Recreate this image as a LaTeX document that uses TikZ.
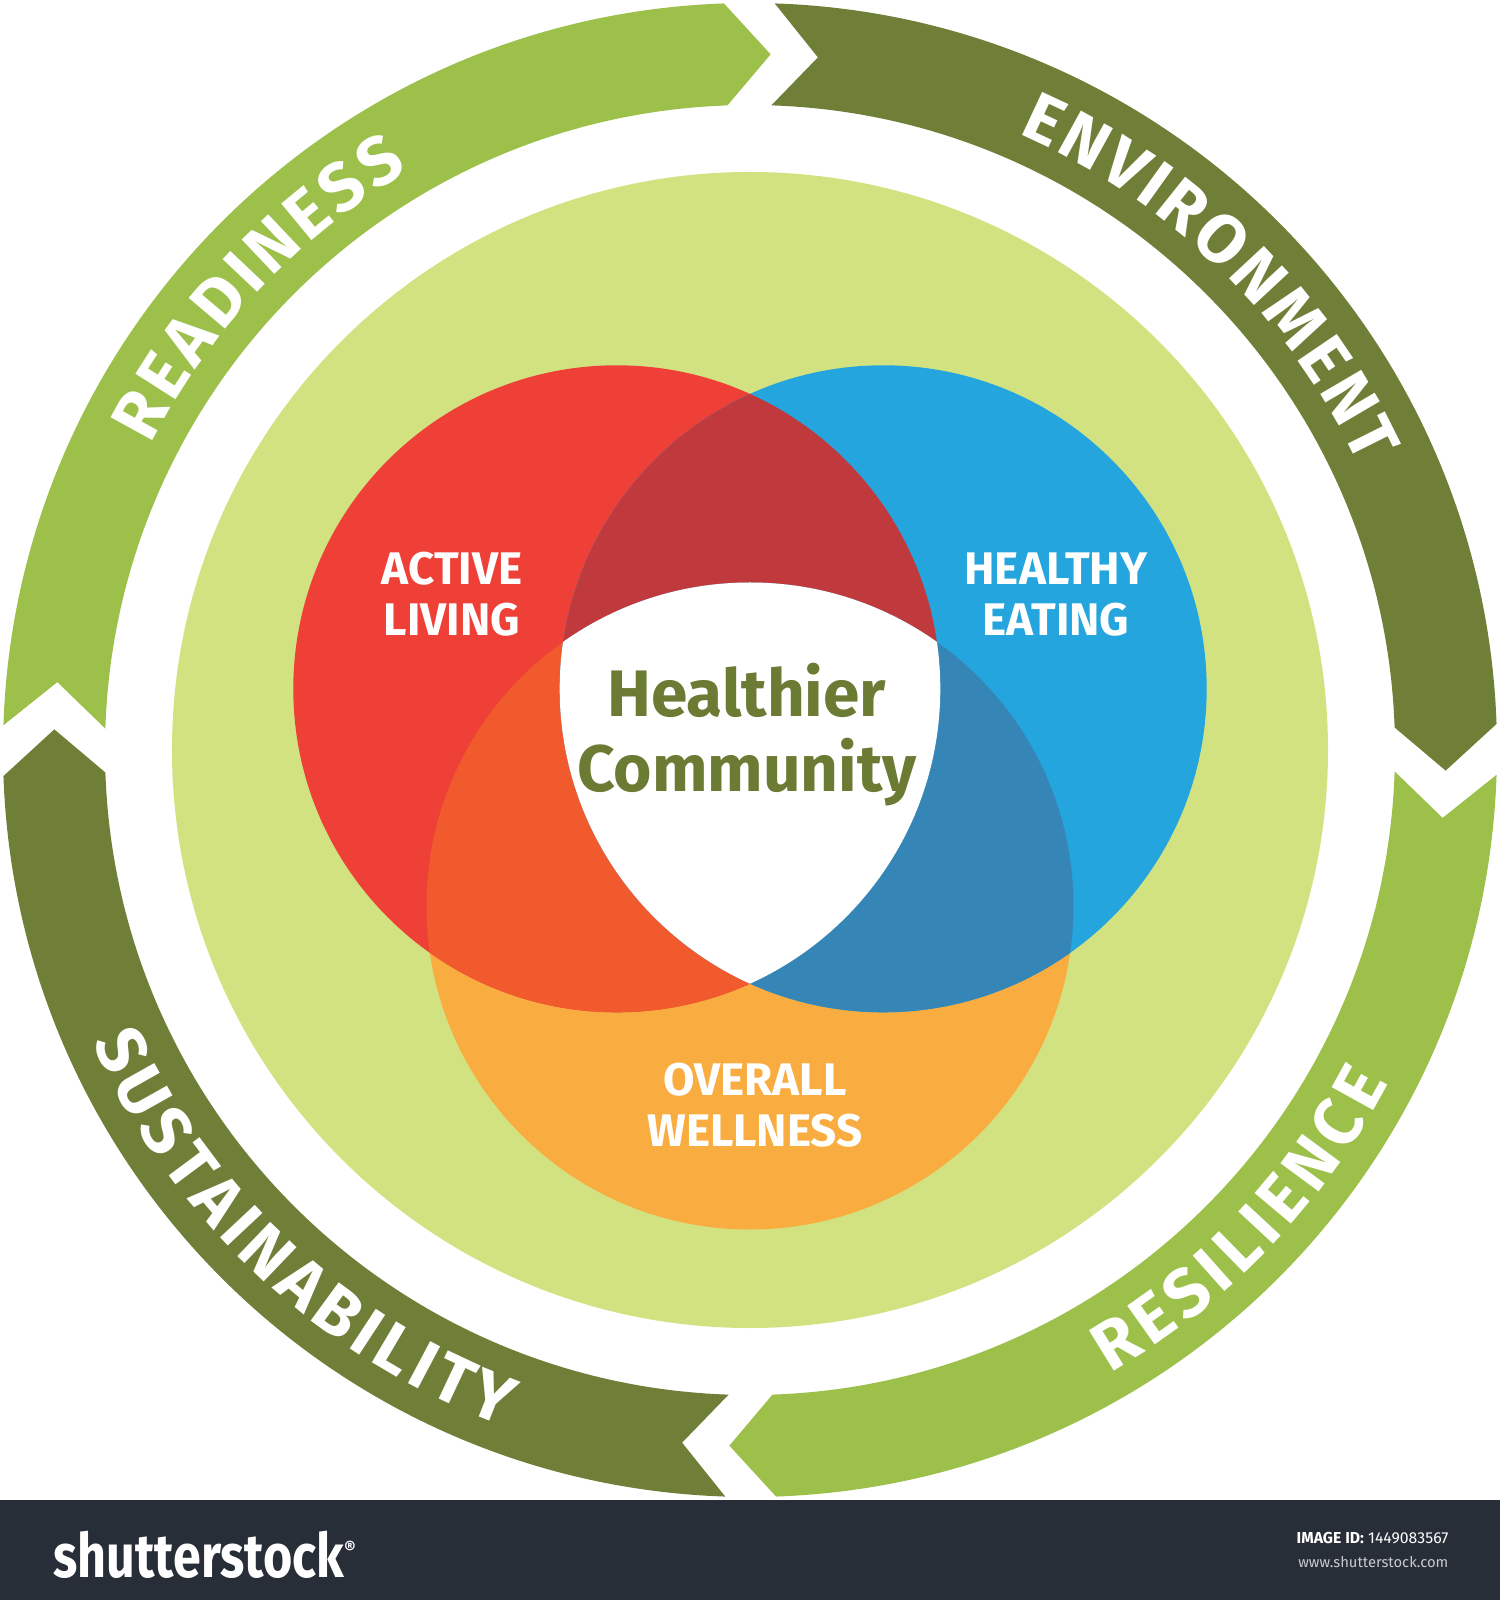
\documentclass[tikz,border=0pt]{standalone}
\usepackage{fontspec}
\setmainfont{Fira Sans}
\usepackage{graphicx}
\usetikzlibrary{decorations.text}

\definecolor{ringlight}{HTML}{9CC04A}
\definecolor{ringdark}{HTML}{6F7F38}
\definecolor{discgreen}{HTML}{D3E280}
\definecolor{venred}{HTML}{EE4036}
\definecolor{venblue}{HTML}{24A5DE}
\definecolor{venorange}{HTML}{F9AC40}
\definecolor{redblue}{HTML}{C0393C}
\definecolor{redorange}{HTML}{F05A2C}
\definecolor{blueorange}{HTML}{3586B6}
\definecolor{hubolive}{HTML}{6B7B33}
\definecolor{footerbg}{HTML}{282E38}

\newcommand\ringfont{\fontsize{19.5}{21}\selectfont\bfseries}

\begin{document}
\begin{tikzpicture}[x=0.01cm,y=0.01cm,
  venlabel/.style={text=white,font=\fontsize{13}{14.5}\selectfont\bfseries,align=center},
  hubtext/.style={text=hubolive,font=\fontsize{18.7}{20}\selectfont\bfseries,anchor=base},
  ringword/.style={decorate,decoration={text along path,text align={fit to path},text color=white}}]
  \useasboundingbox (-750,-850) rectangle (750,750);

  % footer band
  \fill[footerbg] (-750,-850) rectangle (750,-750);

  % light green disc behind the Venn diagram
  \fill[discgreen] (0,0) circle[radius=578];

  % four chevron arcs running clockwise
  \foreach \s/\e/\c in {178.1/92/ringlight,88.1/2/ringdark,-1.9/-88/ringlight,-91.9/-178/ringdark} {
    \fill[\c] (\s:747) arc[start angle=\s,end angle=\e,radius=747]
      -- ({\e-3.7}:696) -- (\e:645) arc[start angle=\e,end angle=\s,radius=645]
      -- ({\s-3.7}:696) -- cycle;
  }

  % words on the arcs (top ones read clockwise, bottom ones counter-clockwise)
  \path[ringword,decoration={text={|\ringfont|READINESS}}]
    (153:672) arc[start angle=153,end angle=120.5,radius=672];
  \path[ringword,decoration={text={|\ringfont|ENVIRONMENT}}]
    (66.5:672) arc[start angle=66.5,end angle=25,radius=672];
  \path[ringword,decoration={text={|\ringfont|RESILIENCE}}]
    (-60:720) arc[start angle=-60,end angle=-27.5,radius=720];
  \path[ringword,decoration={text={|\ringfont|SUSTAINABILITY}}]
    (204:720) arc[start angle=204,end angle=250,radius=720];

  % three circles
  \coordinate (redc) at (-133.2,61.2);
  \coordinate (bluec) at (133.2,61.2);
  \coordinate (orangec) at (0,-156);
  \fill[venorange] (orangec) circle[radius=323.5];
  \fill[venred] (redc) circle[radius=323.5];
  \fill[venblue] (bluec) circle[radius=323.5];
  \begin{scope}
    \clip (redc) circle[radius=323.5];
    \fill[redblue] (bluec) circle[radius=323.5];
    \fill[redorange] (orangec) circle[radius=323.5];
  \end{scope}
  \begin{scope}
    \clip (bluec) circle[radius=323.5];
    \fill[blueorange] (orangec) circle[radius=323.5];
  \end{scope}
  % common part left white
  \begin{scope}
    \clip (redc) circle[radius=323.5];
    \clip (bluec) circle[radius=323.5];
    \fill[white] (orangec) circle[radius=323.5];
  \end{scope}

  \node[venlabel] (active) at (-298,155.5) {ACTIVE\\LIVING};
  \node[venlabel] (healthy) at (306,155.5) {HEALTHY\\EATING};
  \node[venlabel] (overall) at (5,-355.5) {OVERALL\\WELLNESS};
  \node[hubtext] (healthier) at (-3.3,33.3) {Healthier};
  \node[hubtext] (community) at (-3.3,-41.7) {Community};

  % footer texts
  \node[anchor=base west,text=white,inner sep=0,font=\fontsize{17.4}{18}\selectfont\bfseries]
    (logo) at (-697,-827) {\scalebox{0.82}[1]{shutterstock}\textsuperscript{\tiny ®}};
  \node[anchor=east,text=white,inner sep=0,font=\fontsize{4.5}{5}\selectfont]
    (imageid) at (699,-788) {\textbf{IMAGE ID:} 1449083567};
  \node[anchor=east,text=white!75!footerbg,inner sep=0,font=\fontsize{4.2}{5}\selectfont]
    (site) at (699,-812) {www.shutterstock.com};
\end{tikzpicture}
\end{document}
